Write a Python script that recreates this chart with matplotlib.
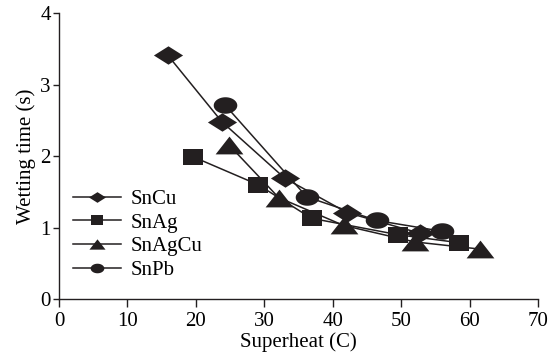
import matplotlib
matplotlib.use("Agg")
import matplotlib.pyplot as plt
import numpy as np

# Data
sncu_x = [15.9, 23.8, 33.0, 42.1, 52.8]
sncu_y = [3.41, 2.48, 1.69, 1.21, 0.92]
snag_x = [19.6, 29.1, 36.9, 49.6, 58.4]
snag_y = [1.99, 1.60, 1.13, 0.90, 0.79]
snagcu_x = [24.8, 32.1, 41.6, 52.0, 61.5]
snagcu_y = [2.16, 1.42, 1.03, 0.80, 0.70]
snpb_x = [24.3, 36.2, 46.4, 55.9]
snpb_y = [2.71, 1.43, 1.10, 0.95]
labels = ["SnCu", "SnAg", "SnAgCu", "SnPb"]

x_ticks = [0, 10, 20, 30, 40, 50, 60, 70]
y_ticks = [0, 1, 2, 3, 4]

plt.rcParams['font.family'] = ['Liberation Serif', 'DejaVu Serif']
col = '#231f20'

# custom (flattened) marker shapes
diamond = [(-1, 0), (0, 0.63), (1, 0), (0, -0.63), (-1, 0)]
square = [(-1, -0.8), (1, -0.8), (1, 0.8), (-1, 0.8), (-1, -0.8)]
triangle = [(-1, -0.64), (1, -0.64), (0, 0.64), (-1, -0.64)]
t = np.linspace(0, 2 * np.pi, 40)
ellipse = list(zip(np.cos(t), 0.7 * np.sin(t)))

fig = plt.figure(figsize=(5.49, 3.54), dpi=100)
ax = fig.add_axes([0.1075, 0.155, 0.8725, 0.808])

series = [
    (sncu_x, sncu_y, diamond, 21.0),
    (snag_x, snag_y, square, 15.0),
    (snagcu_x, snagcu_y, triangle, 20.0),
    (snpb_x, snpb_y, ellipse, 17.0),
]
for (xs, ys, mk, ms), lab in zip(series, labels):
    ax.plot(xs, ys, color=col, lw=1.1, marker=mk, ms=ms, mfc=col, mec=col,
            mew=0, label=lab)

ax.set_xlim(0, 70)
ax.set_ylim(0, 4)
ax.set_xticks(x_ticks)
ax.set_yticks(y_ticks)
for s in ['top', 'right']:
    ax.spines[s].set_visible(False)
for s in ['left', 'bottom']:
    ax.spines[s].set_linewidth(1.0)
    ax.spines[s].set_color(col)
ax.tick_params(axis='x', direction='out', length=6, width=1, colors=col,
               labelsize=15, labelcolor='black', pad=3)
ax.tick_params(axis='y', direction='out', length=4, width=1, colors=col,
               labelsize=15, labelcolor='black', pad=2)
ax.set_xlabel("Superheat (C)", fontsize=15, labelpad=1)
ax.set_ylabel("Wetting time (s)", fontsize=15, labelpad=3)

leg = ax.legend(loc='center left', bbox_to_anchor=(0.03, 0.225), frameon=False,
                fontsize=15, markerscale=0.58, handlelength=2.3,
                handletextpad=0.45, labelspacing=0.2, borderaxespad=0,
                borderpad=0)

fig.savefig("out.png", dpi=100)
